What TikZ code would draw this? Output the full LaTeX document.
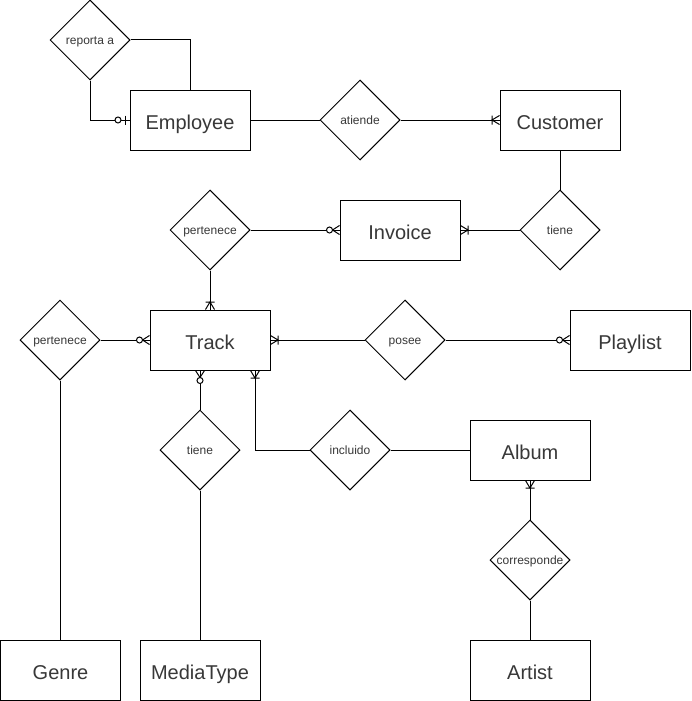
\documentclass[tikz,border=0pt]{standalone}
\usepackage{fontspec}
\setmainfont{Liberation Sans}
\usetikzlibrary{shapes.geometric}

% crow's foot ends
\pgfdeclarearrow{
  name = onemany,
  setup code = {
    \pgfarrowssettipend{0pt}
    \pgfarrowssetlineend{0pt}
    \pgfarrowssetbackend{-8pt}
    \pgfarrowsupperhullpoint{0pt}{4.5pt}
    \pgfarrowsupperhullpoint{-8pt}{4.5pt}
  },
  drawing code = {
    \pgfpathmoveto{\pgfqpoint{0pt}{4.5pt}}
    \pgfpathlineto{\pgfqpoint{-7.5pt}{0pt}}
    \pgfpathlineto{\pgfqpoint{0pt}{-4.5pt}}
    \pgfpathmoveto{\pgfqpoint{-7.5pt}{4.5pt}}
    \pgfpathlineto{\pgfqpoint{-7.5pt}{-4.5pt}}
    \pgfusepathqstroke
  }
}
\pgfdeclarearrow{
  name = zeromany,
  setup code = {
    \pgfarrowssettipend{0pt}
    \pgfarrowssetlineend{0pt}
    \pgfarrowssetbackend{-13pt}
    \pgfarrowsupperhullpoint{0pt}{4.5pt}
    \pgfarrowsupperhullpoint{-13pt}{3pt}
  },
  drawing code = {
    \pgfpathmoveto{\pgfqpoint{0pt}{4.5pt}}
    \pgfpathlineto{\pgfqpoint{-7pt}{0pt}}
    \pgfpathlineto{\pgfqpoint{0pt}{-4.5pt}}
    \pgfusepathqstroke
    \pgfpathcircle{\pgfqpoint{-10pt}{0pt}}{3pt}
    \pgfsetfillcolor{white}
    \pgfusepathqfillstroke
  }
}
\pgfdeclarearrow{
  name = zeroone,
  setup code = {
    \pgfarrowssettipend{0pt}
    \pgfarrowssetlineend{0pt}
    \pgfarrowssetbackend{-14.5pt}
    \pgfarrowsupperhullpoint{0pt}{4.5pt}
    \pgfarrowsupperhullpoint{-14.5pt}{3pt}
  },
  drawing code = {
    \pgfpathmoveto{\pgfqpoint{-4.5pt}{4.5pt}}
    \pgfpathlineto{\pgfqpoint{-4.5pt}{-4.5pt}}
    \pgfusepathqstroke
    \pgfpathcircle{\pgfqpoint{-11.5pt}{0pt}}{3pt}
    \pgfsetfillcolor{white}
    \pgfusepathqfillstroke
  }
}

\begin{document}
\begin{tikzpicture}[x=1pt,y=-1pt,line width=1pt,
  entity/.style={draw,fill=white,minimum width=120pt,minimum height=60pt,inner sep=0pt,
    text height=20pt,text depth=2pt,text=black!78,font=\fontsize{20}{24}\selectfont},
  rel/.style={draw,fill=white,diamond,aspect=1,minimum width=80pt,minimum height=80pt,inner sep=0pt,
    text height=10pt,text depth=1.4pt,text=black!78,font=\fontsize{12}{14}\selectfont}]
\useasboundingbox (0,0) rectangle (691,701);

% entities
\node[entity] (employee) at (190,120) {Employee};
\node[entity] (customer) at (560,120) {Customer};
\node[entity] (invoice) at (400,230) {Invoice};
\node[entity] (track) at (210,340) {Track};
\node[entity] (playlist) at (630,340) {Playlist};
\node[entity] (album) at (530,450) {Album};
\node[entity] (genre) at (60.5,670) {Genre};
\node[entity] (mediatype) at (200,670) {MediaType};
\node[entity] (artist) at (530,670) {Artist};

% relations
\node[rel] (reporta) at (90,40) {reporta a};
\node[rel] (atiende) at (360,120) {atiende};
\node[rel] (tieneC) at (560,230) {tiene};
\node[rel] (perteneceI) at (210,230) {pertenece};
\node[rel] (perteneceG) at (60,340) {pertenece};
\node[rel] (posee) at (405,340) {posee};
\node[rel] (tieneM) at (200,450) {tiene};
\node[rel] (incluido) at (350,450) {incluido};
\node[rel] (corresponde) at (530,560) {corresponde};

% links
\draw (reporta.east) -| (employee.north);
\draw[-zeroone] (reporta.south) |- (employee.west);
\draw (employee.east) -- (atiende.west);
\draw[-onemany] (atiende.east) -- (customer.west);
\draw (customer.south) -- (tieneC.north);
\draw[-onemany] (tieneC.west) -- (invoice.east);
\draw[-zeromany] (perteneceI.east) -- (invoice.west);
\draw[-onemany] (perteneceI.south) -- (track.north);
\draw[-zeromany] (perteneceG.east) -- (track.west);
\draw (perteneceG.south) -- (genre.north -| perteneceG.south);
\draw[-onemany] (posee.west) -- (track.east);
\draw[-zeromany] (posee.east) -- (playlist.west);
\draw[-zeromany] (tieneM.north) -- (track.south -| tieneM.north);
\draw (tieneM.south) -- (mediatype.north);
\draw[-onemany] (incluido.west) -| ([xshift=45pt]track.south);
\draw (incluido.east) -- (album.west);
\draw[-onemany] (corresponde.north) -- (album.south);
\draw (corresponde.south) -- (artist.north);
\end{tikzpicture}
\end{document}
